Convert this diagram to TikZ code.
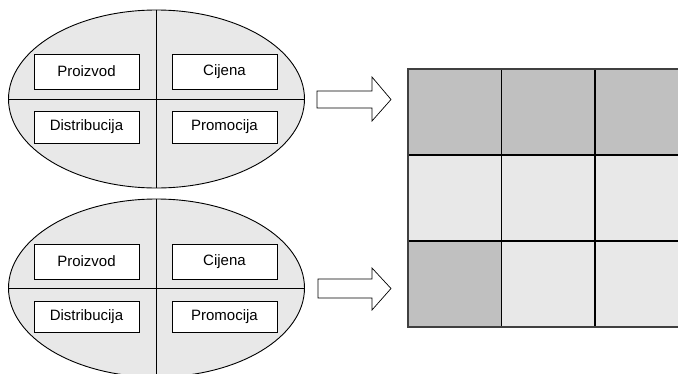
\documentclass[tikz,border=0pt]{standalone}
\usepackage{fontspec}
\setmainfont{Liberation Sans}
\usetikzlibrary{shapes.geometric}
\definecolor{ellfill}{HTML}{E8E8E8}
\definecolor{celldark}{HTML}{C0C0C0}
\definecolor{celllight}{HTML}{E8E8E8}
\definecolor{gridborder}{HTML}{404040}
\tikzset{
  oval/.style={ellipse, draw=black, line width=0.9pt, fill=ellfill, minimum width=296pt, minimum height=178pt, inner sep=0pt},
  mixbox/.style={draw=black, line width=0.9pt, fill=white, minimum width=105pt, inner sep=0pt, font=\fontsize{15}{18}\selectfont},
  divider/.style={draw=black, line width=0.9pt},
  fatarrow/.style={draw=black, line width=0.7pt, fill=white, line join=miter},
  cell/.style={draw=black, line width=0.9pt, minimum width=92.5pt, minimum height=85pt, inner sep=0pt, anchor=north west},
}
\begin{document}
\begin{tikzpicture}[x=1pt,y=-1pt]
\useasboundingbox (0,0) rectangle (678,373);
\clip (0,0) rectangle (678,373);
% top ellipse
\node[oval] (e1) at (156.5,99) {};
\draw[divider] (e1.north) -- (e1.south);
\draw[divider] (e1.west) -- (e1.east);
\node[mixbox, minimum height=35pt] (p1) at (86.5,71.5) {Proizvod};
\node[mixbox, minimum height=35pt] (c1) at (224.5,71.5) {Cijena};
\node[mixbox, minimum height=32pt] (d1) at (86.5,127) {Distribucija};
\node[mixbox, minimum height=32pt] (r1) at (224.5,127) {Promocija};
% bottom ellipse
\node[oval] (e2) at (156.5,288) {};
\draw[divider] (e2.north) -- (e2.south);
\draw[divider] (e2.west) -- (e2.east);
\node[mixbox, minimum height=35pt] (p2) at (86.5,261.5) {Proizvod};
\node[mixbox, minimum height=35pt] (c2) at (224.5,261.5) {Cijena};
\node[mixbox, minimum height=31pt] (d2) at (86.5,316.5) {Distribucija};
\node[mixbox, minimum height=31pt] (r2) at (224.5,316.5) {Promocija};
% arrows
\draw[fatarrow] (317,91) -- (372,91) -- (372,77) -- (391,99.5) -- (372,121) -- (372,108) -- (317,108) -- cycle;
\draw[fatarrow] (318,279) -- (372,279) -- (372,268) -- (391,288.5) -- (372,310) -- (372,298) -- (318,298) -- cycle;
% grid
\node[cell, fill=celldark] (g11) at (408,69) {};
\node[cell, fill=celldark] (g12) at (g11.north east) {};
\node[cell, fill=celldark] (g13) at (g12.north east) {};
\node[cell, fill=celllight] (g21) at (g11.south west) {};
\node[cell, fill=celllight] (g22) at (g21.north east) {};
\node[cell, fill=celllight] (g23) at (g22.north east) {};
\node[cell, fill=celldark] (g31) at (g21.south west) {};
\node[cell, fill=celllight] (g32) at (g31.north east) {};
\node[cell, fill=celllight] (g33) at (g32.north east) {};
\draw[draw=gridborder, line width=1.6pt] (g11.north west) rectangle (g33.south east);
\end{tikzpicture}
\end{document}
